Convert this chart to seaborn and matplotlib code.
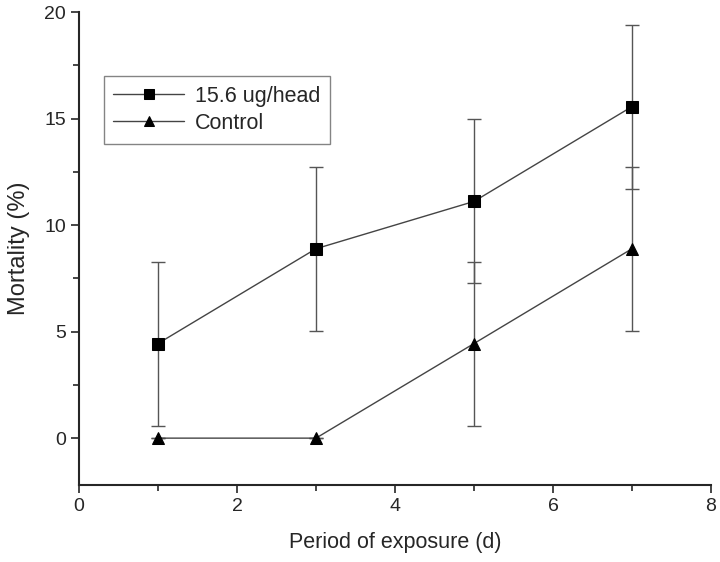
import numpy as np
import pandas as pd
import matplotlib
matplotlib.use("Agg")
import matplotlib.pyplot as plt
import seaborn as sns
from matplotlib.ticker import MultipleLocator

days = [1, 3, 5, 7]
treated_mean = [4.44, 8.89, 11.11, 15.56]
treated_err = [3.85, 3.85, 3.85, 3.85]
control_mean = [0.0, 0.0, 4.44, 8.89]
control_err = [0.0, 0.0, 3.85, 3.85]
labels = ["15.6 ug/head", "Control"]

df = pd.DataFrame({
    "day": days * 2,
    "mortality": treated_mean + control_mean,
    "err": treated_err + control_err,
    "group": [labels[0]] * 4 + [labels[1]] * 4,
})

sns.set_style("ticks")
plt.rcParams["font.family"] = ["Liberation Sans", "DejaVu Sans"]

fig = plt.figure(figsize=(7.2, 5.62), dpi=100)
ax = fig.add_axes([0.1097, 0.137, 0.8778, 0.8416])

# error bars first, behind the markers
for name in labels:
    g = df[df["group"] == name]
    ax.errorbar(g["day"], g["mortality"], yerr=g["err"], fmt="none",
                ecolor="#555555", elinewidth=1.0, capsize=5, capthick=1.0, zorder=1)

sns.lineplot(data=df, x="day", y="mortality", hue="group", style="group",
             markers={labels[0]: "s", labels[1]: "^"}, dashes=False,
             palette={labels[0]: "#444444", labels[1]: "#444444"},
             markersize=9, markeredgecolor="black", markerfacecolor="black",
             linewidth=1.0, ax=ax, zorder=2)

ax.set_xlim(0, 8)
ax.set_ylim(-2.2, 20)
ax.xaxis.set_major_locator(MultipleLocator(2))
ax.xaxis.set_minor_locator(MultipleLocator(1))
ax.yaxis.set_major_locator(MultipleLocator(5))
ax.yaxis.set_minor_locator(MultipleLocator(2.5))
ax.tick_params(which="major", length=6, width=1.2, labelsize=14, direction="out")
ax.tick_params(which="minor", length=4, width=1.2, direction="out")
for s in ["left", "bottom"]:
    ax.spines[s].set_linewidth(1.5)
sns.despine(ax=ax)

ax.set_xlabel("Period of exposure (d)", fontsize=15.5, labelpad=12)
ax.set_ylabel("Mortality (%)", fontsize=17, labelpad=10)

# legend with solid black markers, square frame
handles, _ = ax.get_legend_handles_labels()
for h in handles:
    h.set_markerfacecolor("black")
    h.set_markeredgecolor("black")
leg = ax.legend(handles, labels, loc="upper left",
                bbox_to_anchor=(0.144, 0.865), bbox_transform=fig.transFigure,
                fontsize=15.5, frameon=True, fancybox=False, handlelength=3.3,
                borderpad=0.45, borderaxespad=0, labelspacing=0.3,
                handletextpad=0.5, markerscale=0.8)
leg.get_frame().set_edgecolor("#666666")
leg.get_frame().set_linewidth(1.0)

fig.savefig("out.png", dpi=100)
